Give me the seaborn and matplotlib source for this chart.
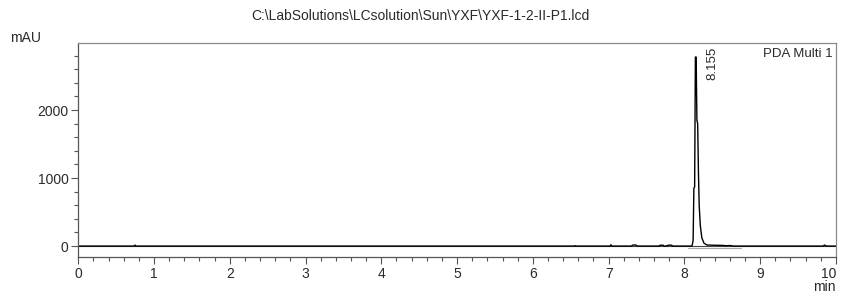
import numpy as np
import pandas as pd
import matplotlib.pyplot as plt
import seaborn as sns
from matplotlib.ticker import MultipleLocator

# -------------------------------
# Chromatogram data
# -------------------------------
time_min = [0.00, 0.74, 0.75, 0.76, 6.55, 6.56, 6.57, 7.02, 7.03, 7.04,
            7.30, 7.32, 7.36, 7.38, 7.66, 7.68, 7.72, 7.74, 7.78, 7.82,
            7.85, 8.10, 8.115, 8.125, 8.135, 8.145, 8.155, 8.165, 8.175, 8.185,
            8.195, 8.21, 8.23, 8.26, 8.30, 8.40, 8.50, 8.55, 8.60, 8.65,
            9.83, 9.85, 9.87, 10.00]
signal_mau = [0, 0, 15, 0, 0, 6, 0, 0, 20, 0,
              0, 15, 15, 0, 0, 12, 12, -5, 10, 15,
              0, 0, 80, 850, 870, 2780, 2780, 1850, 1800, 1100,
              600, 300, 120, 40, 15, 12, 10, 5, 8, 0,
              0, 15, 0, 0]

# integration baseline under the main peak
base_t = [8.05, 8.75]
base_y = [-25, -25]

peak_rt = 8.155
peak_top = 2780

file_title = r"C:\LabSolutions\LCsolution\Sun\YXF\YXF-1-2-II-P1.lcd"

df = pd.DataFrame({"time": time_min, "signal": signal_mau})

# -------------------------------
# Plot
# -------------------------------
sns.set_style("ticks")
plt.rcParams['font.family'] = ['Liberation Sans', 'DejaVu Sans']
txt = "#2a2a2a"
frame = "#8a8a8a"
fs = 10

fig, ax = plt.subplots(figsize=(8.41, 2.95), dpi=100)
fig.subplots_adjust(left=0.093, right=0.994, top=0.854, bottom=0.129)

ax.axhline(0, color="#444444", lw=0.8, zorder=1)
ax.plot(base_t, base_y, color="#aaaaaa", lw=0.8)
sns.lineplot(data=df, x="time", y="signal", ax=ax, color="black",
             lw=1.0, estimator=None, sort=False)

ax.set_xlim(0, 10)
ax.set_ylim(-160, 2985)
ax.set_xticks(range(0, 11))
ax.xaxis.set_minor_locator(MultipleLocator(0.2))
ax.yaxis.set_major_locator(MultipleLocator(1000))
ax.yaxis.set_minor_locator(MultipleLocator(200))

ax.tick_params(which="major", length=5, width=0.8, color="#555555",
               labelsize=fs, labelcolor=txt, pad=2)
ax.tick_params(which="minor", length=3, width=0.8, color="#555555")
for s in ax.spines.values():
    s.set_color(frame)
    s.set_linewidth(0.9)
ax.spines["bottom"].set_color("#555555")
ax.spines["left"].set_color("#555555")

ax.set_xlabel("")
ax.set_ylabel("")

# keep the last x label inside the figure
fig.canvas.draw()
for tick in ax.xaxis.get_major_ticks():
    if tick.label1.get_text() == "10":
        tick.label1.set_horizontalalignment("right")

ax.text(peak_rt + 0.21, peak_top + 150, f"{peak_rt:.3f}", rotation=90,
        ha="center", va="top", fontsize=fs - 0.5, color=txt)
ax.text(0.996, 0.975, "PDA Multi 1", transform=ax.transAxes,
        ha="right", va="top", fontsize=fs - 0.5, color=txt)

fig.text(0.5, 0.945, file_title, ha="center", va="center",
         fontsize=fs, color=txt)
fig.text(0.012, 0.87, "mAU", ha="left", va="center", fontsize=fs, color=txt)
fig.text(0.994, 0.027, "min", ha="right", va="center", fontsize=fs, color=txt)

plt.savefig("out.png", dpi=100)
plt.close()
